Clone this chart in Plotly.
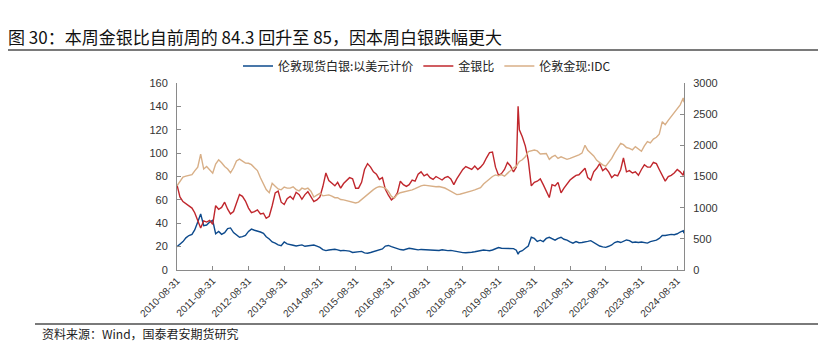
import pandas as pd
import plotly.graph_objects as go

# ---------------- data ----------------
# month-end dates Aug-2010 .. Oct-2024, plus the Mar-2020 spike day and the last print
month_ends = [d.strftime("%Y-%m-%d") for d in pd.date_range("2010-08-31", "2024-10-31", freq="ME")]
dates = month_ends[:115] + ["2020-03-18"] + month_ends[115:] + ["2024-11-08"]

# 伦敦现货白银:以美元计价 (left axis)
silver = [
    20, 22, 24.3, 27.5, 29.5,                                           # 2010 Aug-Dec
    30.5, 34.3, 41, 48, 38, 38.5, 41, 42.5, 31, 33, 30.5, 32,           # 2011
    35.5, 36, 32, 30, 28, 28.5, 29.5, 33, 35, 34, 33.5, 32.5,           # 2012
    31.4, 28.5, 26.5, 24, 23, 21.5, 20.8, 24, 22.3, 22, 21.2, 20.5,     # 2013
    21.2, 21.5, 20.3, 20.5, 20.8, 21.4, 20.5, 19.4, 17.5, 16.6, 17.1, 17.4,  # 2014
    17.7, 17.2, 16.5, 16.8, 16.6, 16.2, 15, 15.4, 15.7, 15.9, 14.6, 14.3,    # 2015
    15, 15.7, 16.2, 17.1, 18, 20.5, 21, 20, 19, 18.3, 17.5, 17.1,       # 2016
    17.8, 18.6, 18.2, 17.4, 17.2, 17.6, 17.5, 17.2, 17.4, 17.2, 16.8, 16.7,  # 2017
    17.3, 16.9, 16.6, 16.8, 16.2, 15.7, 15.3, 14.9, 14.8, 15.3, 15.2, 15.6,  # 2018
    16.3, 16.6, 17.1, 16.8, 16.5, 17.1, 18.2, 19.2, 18.6, 18.4, 18.6, 18.6,  # 2019
    18.3, 17.0, 13.5, 15.5, 16.5, 18.6, 20.5, 28, 27, 24.5, 25.5, 24.3, 27,  # 2020 (+Mar-18)
    28, 27, 25.5, 27, 28, 26.3, 25.5, 24, 23, 24.3, 23.3, 23.5,         # 2021
    24.3, 24.5, 25.1, 23.4, 21.8, 20.5, 19.8, 19.4, 20.3, 21.4, 23.5, 24.3,  # 2022
    23.5, 24.5, 25.7, 25.2, 23.6, 24, 23.5, 24, 23.3, 23, 24.3, 25,     # 2023
    25.5, 27, 29.5, 29.5, 30, 30.5, 30.2, 31, 32.5, 33.7, 31.4,         # 2024 (+Nov-08)
]

# 金银比 (left axis)
ratio = [
    72.9, 62.5, 58.5, 56.5, 55,
    53, 49, 42, 36, 42, 41, 42.5, 39, 55, 52, 53.5, 58,
    52, 48, 50, 58, 64.5, 63, 59, 53, 49, 50, 51.5, 48,
    48.6, 44.3, 46, 55, 66, 67.5, 58, 56, 61, 63, 60.5, 66.5,
    64.5, 60.5, 64.5, 67, 63, 58.5, 60, 62.5, 71.4, 83, 76.5, 74,
    72, 75, 70, 74, 76.5, 79, 78, 70, 70, 75, 86, 91,
    88, 84, 82, 77.5, 79, 69, 64, 60, 62, 66, 76, 73,
    71.5, 73, 77, 76, 82, 84, 80.5, 82, 79, 77.5, 80, 78.5,
    77, 79, 80, 78, 73, 78, 82.5, 86, 88.5, 87, 86, 89,
    86, 88, 91, 96, 100.5, 101, 88, 81, 82.5, 86, 92, 89,
    84, 88, 140, 120, 114, 106, 94, 72, 75, 76, 78, 73, 67,
    62, 73, 72, 75, 66, 70, 74, 77, 79, 81, 81.5, 84,
    87, 79, 77, 84, 87, 91, 85, 87, 84, 79, 81.4, 80.5,
    86, 96, 84, 85, 83, 84, 81, 86, 90, 88, 88, 92,
    91, 86, 81, 76, 80, 81, 83, 86, 84, 81, 85,
]

# 伦敦金现:IDC (right axis)
gold = [
    1350, 1420, 1490, 1505, 1520,
    1530, 1590, 1650, 1860, 1620, 1660, 1600, 1554, 1700, 1768, 1720, 1660,
    1620, 1560, 1640, 1750, 1780, 1745, 1715, 1712, 1690, 1640, 1595, 1480,
    1380, 1290, 1240, 1390, 1345, 1300, 1286, 1330, 1313, 1313, 1335, 1290,
    1270, 1313, 1297, 1313, 1265, 1170, 1200, 1230, 1190, 1195, 1205, 1185,
    1160, 1160, 1130, 1125, 1110, 1100, 1085, 1075, 1090, 1130, 1180, 1220,
    1260, 1290, 1320, 1339, 1330, 1313, 1260, 1180, 1155, 1215, 1240, 1250,
    1259, 1270, 1286, 1305, 1330, 1350, 1362, 1355, 1345, 1339, 1335, 1340,
    1330, 1315, 1290, 1265, 1240, 1210, 1215, 1232, 1245, 1259, 1270, 1285,
    1300, 1320, 1380, 1420, 1470, 1500, 1525, 1510, 1530, 1505, 1550, 1600,
    1640, 1665, 1700, 1741, 1768, 1815, 1900, 1915, 1925, 1910, 1860, 1865, 1870,
    1775, 1815, 1840, 1790, 1815, 1800, 1775, 1790, 1810, 1820, 1848, 1875,
    2000, 1920, 1880, 1830, 1760, 1720, 1687, 1665, 1720, 1790, 1880, 1960,
    2030, 2010, 1965, 1950, 1928, 1980, 1935, 1905, 1990, 2060, 2040, 2100,
    2130, 2180, 2380, 2330, 2400, 2460, 2530, 2590, 2650, 2760, 2690,
]

assert len(dates) == len(silver) == len(ratio) == len(gold)

x_ticks = [f"{y}-08-31" for y in range(2010, 2025)]
left_ticks = list(range(0, 161, 20))
right_ticks = list(range(0, 3001, 500))

title_text = "图 30：本周金银比自前周的 84.3 回升至 85，因本周白银跌幅更大"
source_text = "资料来源：Wind，国泰君安期货研究"
names = ["伦敦现货白银:以美元计价", "金银比", "伦敦金现:IDC"]
colors = ["#0D4A8C", "#C0272D", "#D8AF87"]

# ---------------- figure ----------------
W, H = 818, 354
L, R, T, B = 177, 684, 83, 270   # plot area in pixels
pw, ph = R - L, B - T

def px(xp):
    return (xp - L) / pw

def py(yp):
    return (B - yp) / ph

fig = go.Figure()
fig.add_trace(go.Scatter(x=dates, y=silver, name=names[0], mode="lines",
                         line=dict(color=colors[0], width=1.4)))
fig.add_trace(go.Scatter(x=dates, y=ratio, name=names[1], mode="lines",
                         line=dict(color=colors[1], width=1.4)))
fig.add_trace(go.Scatter(x=dates, y=gold, name=names[2], mode="lines", yaxis="y2",
                         line=dict(color=colors[2], width=1.4)))

axis_col = "#8a8a8a"
tick_font = dict(family="Liberation Sans, Arial, sans-serif", size=11, color="#333333")

fig.update_layout(
    width=W, height=H,
    margin=dict(l=L, r=W - R, t=T, b=H - B, pad=0),
    paper_bgcolor="white", plot_bgcolor="white",
    font=dict(family="Noto Sans CJK SC, sans-serif", color="#222222"),
    showlegend=True,
    legend=dict(orientation="h", x=px(238), y=py(66), xanchor="left", yanchor="middle",
                font=dict(family="Noto Sans CJK SC, sans-serif", size=12, color="#222222"),
                bgcolor="rgba(0,0,0,0)", itemwidth=30, tracegroupgap=0),
    xaxis=dict(type="date", range=["2010-08-31", "2024-11-08"],
               tickmode="array", tickvals=x_ticks, ticktext=x_ticks, tickangle=-45,
               tickfont=dict(family="Liberation Sans, Arial, sans-serif", size=10, color="#333333"),
               showline=True, linecolor=axis_col, linewidth=1,
               ticks="inside", ticklen=4, tickcolor=axis_col,
               showgrid=False, zeroline=False),
    yaxis=dict(range=[0, 160], tickmode="array", tickvals=left_ticks,
               tickfont=tick_font, showline=True, linecolor=axis_col, linewidth=1,
               ticks="inside", ticklen=4, tickcolor=axis_col, ticklabelstandoff=6,
               showgrid=False, zeroline=False),
    yaxis2=dict(range=[0, 3000], tickmode="array", tickvals=right_ticks,
                overlaying="y", side="right", anchor="x",
                tickfont=tick_font, showline=True, linecolor=axis_col, linewidth=1,
                ticks="inside", ticklen=4, tickcolor=axis_col, ticklabelstandoff=6,
                showgrid=False, zeroline=False),
    title=dict(text=title_text, xref="container", yref="container",
               x=8 / W, y=1 - 38 / H, xanchor="left", yanchor="middle",
               font=dict(family="Noto Sans CJK SC, sans-serif", size=17, color="#111111")),
    shapes=[
        dict(type="line", xref="paper", yref="paper", x0=px(8), x1=px(W), y0=py(50), y1=py(50),
             line=dict(color="#7a7a7a", width=2)),
        dict(type="line", xref="paper", yref="paper", x0=px(35), x1=px(W), y0=py(324), y1=py(324),
             line=dict(color="#7a7a7a", width=2)),
    ],
    annotations=[
        dict(text=source_text, xref="paper", yref="paper", x=px(40), y=py(333),
             xanchor="left", yanchor="middle", showarrow=False,
             font=dict(family="Noto Sans CJK SC, sans-serif", size=12, color="#222222")),
    ],
)

fig.write_html("out.html")
